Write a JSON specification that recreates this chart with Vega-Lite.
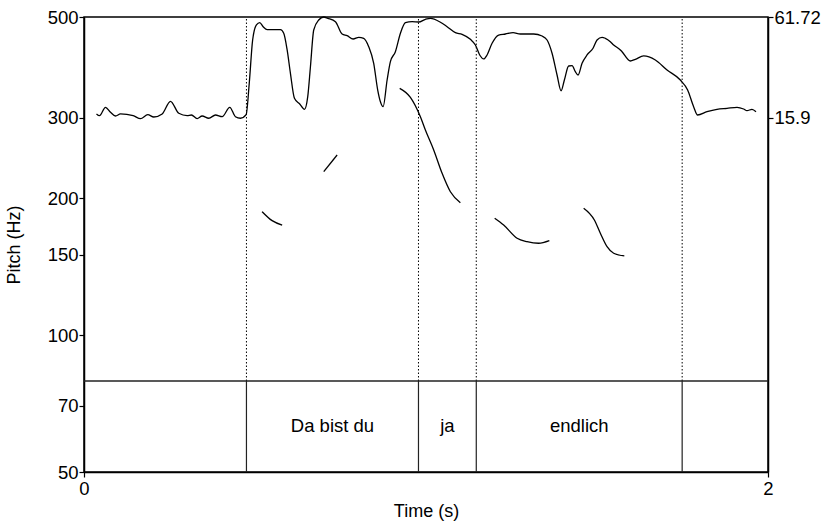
{
  "$schema": "https://vega.github.io/schema/vega-lite/v6.json",
  "width": 684,
  "height": 455,
  "autosize": "none",
  "padding": {"left": 84, "top": 17, "right": 60, "bottom": 56},
  "background": "white",
  "config": {
    "font": "Liberation Sans",
    "view": {"stroke": "black", "strokeWidth": 1.5},
    "axis": {
      "labelFont": "Liberation Sans", "labelFontSize": 18.5, "labelColor": "black",
      "titleFont": "Liberation Sans", "titleFontSize": 18, "titleFontWeight": "normal", "titleColor": "black",
      "domainColor": "black", "domainWidth": 1.5, "tickColor": "black", "tickWidth": 1.2, "tickSize": 5,
      "grid": false, "labelFlush": false, "labelOverlap": false, "labelBound": false
    }
  },
  "datasets": {
    "pitch": [
      {"t":0.0365,"f":306.1,"seg":1},{"t":0.0453,"f":303.5,"seg":1},{"t":0.0628,"f":316.6,"seg":1},{"t":0.0775,"f":308.7,"seg":1},
      {"t":0.0921,"f":303.0,"seg":1},{"t":0.1067,"f":306.1,"seg":1},{"t":0.1438,"f":303.5,"seg":1},{"t":0.1652,"f":298.9,"seg":1},
      {"t":0.1865,"f":305.0,"seg":1},{"t":0.2040,"f":301.4,"seg":1},{"t":0.2286,"f":306.1,"seg":1},{"t":0.2528,"f":326.4,"seg":1},
      {"t":0.2771,"f":307.2,"seg":1},{"t":0.3017,"f":303.5,"seg":1},{"t":0.3142,"f":304.5,"seg":1},{"t":0.3309,"f":298.9,"seg":1},
      {"t":0.3455,"f":303.0,"seg":1},{"t":0.3648,"f":299.5,"seg":1},{"t":0.3844,"f":304.5,"seg":1},{"t":0.4040,"f":301.9,"seg":1},
      {"t":0.4262,"f":316.6,"seg":1},{"t":0.4428,"f":301.9,"seg":1},{"t":0.4575,"f":299.5,"seg":1},{"t":0.4741,"f":305.0,"seg":1},
      {"t":0.4832,"f":357.5,"seg":1},{"t":0.4931,"f":445.1,"seg":1},{"t":0.5042,"f":480.2,"seg":1},{"t":0.5139,"f":485.8,"seg":1},
      {"t":0.5238,"f":476.1,"seg":1},{"t":0.5355,"f":468.9,"seg":1},{"t":0.5548,"f":468.9,"seg":1},{"t":0.5744,"f":468.9,"seg":1},
      {"t":0.5840,"f":460.5,"seg":1},{"t":0.5940,"f":423.2,"seg":1},{"t":0.6036,"f":376.0,"seg":1},{"t":0.6153,"f":331.4,"seg":1},
      {"t":0.6308,"f":322.0,"seg":1},{"t":0.6446,"f":313.4,"seg":1},{"t":0.6542,"f":334.1,"seg":1},{"t":0.6621,"f":388.8,"seg":1},
      {"t":0.6717,"f":468.2,"seg":1},{"t":0.6863,"f":492.5,"seg":1},{"t":0.7010,"f":500.0,"seg":1},{"t":0.7127,"f":496.7,"seg":1},
      {"t":0.7352,"f":488.3,"seg":1},{"t":0.7547,"f":458.8,"seg":1},{"t":0.7694,"f":454.9,"seg":1},{"t":0.7869,"f":447.3,"seg":1},
      {"t":0.8033,"f":451.2,"seg":1},{"t":0.8179,"f":448.9,"seg":1},{"t":0.8325,"f":430.3,"seg":1},{"t":0.8471,"f":395.6,"seg":1},
      {"t":0.8588,"f":345.5,"seg":1},{"t":0.8667,"f":325.7,"seg":1},{"t":0.8746,"f":317.6,"seg":1},{"t":0.8863,"f":363.5,"seg":1},
      {"t":0.8959,"f":398.8,"seg":1},{"t":0.9105,"f":419.5,"seg":1},{"t":0.9252,"f":460.5,"seg":1},{"t":0.9398,"f":485.8,"seg":1},
      {"t":0.9594,"f":488.3,"seg":1},{"t":0.9787,"f":487.5,"seg":1},{"t":0.9982,"f":494.2,"seg":1},{"t":1.0129,"f":496.7,"seg":1},
      {"t":1.0421,"f":487.0,"seg":1},{"t":1.0617,"f":476.1,"seg":1},{"t":1.0859,"f":461.9,"seg":1},{"t":1.1055,"f":458.1,"seg":1},
      {"t":1.1298,"f":446.6,"seg":1},{"t":1.1444,"f":434.0,"seg":1},{"t":1.1570,"f":412.6,"seg":1},{"t":1.1687,"f":404.4,"seg":1},
      {"t":1.1786,"f":412.6,"seg":1},{"t":1.1932,"f":437.7,"seg":1},{"t":1.2125,"f":456.4,"seg":1},{"t":1.2321,"f":458.8,"seg":1},
      {"t":1.2546,"f":461.9,"seg":1},{"t":1.2759,"f":458.8,"seg":1},{"t":1.3148,"f":458.8,"seg":1},{"t":1.3394,"f":454.1,"seg":1},
      {"t":1.3540,"f":445.1,"seg":1},{"t":1.3686,"f":416.2,"seg":1},{"t":1.3832,"f":372.8,"seg":1},{"t":1.3949,"f":344.3,"seg":1},
      {"t":1.4046,"f":363.5,"seg":1},{"t":1.4171,"f":390.2,"seg":1},{"t":1.4271,"f":390.8,"seg":1},{"t":1.4367,"f":379.1,"seg":1},
      {"t":1.4446,"f":372.8,"seg":1},{"t":1.4563,"f":395.6,"seg":1},{"t":1.4709,"f":412.6,"seg":1},{"t":1.4884,"f":426.8,"seg":1},
      {"t":1.5001,"f":445.1,"seg":1},{"t":1.5147,"f":451.2,"seg":1},{"t":1.5244,"f":448.9,"seg":1},{"t":1.5390,"f":441.3,"seg":1},
      {"t":1.5487,"f":434.0,"seg":1},{"t":1.5683,"f":423.2,"seg":1},{"t":1.5732,"f":419.5,"seg":1},{"t":1.5975,"f":400.2,"seg":1},
      {"t":1.6121,"f":403.6,"seg":1},{"t":1.6364,"f":410.5,"seg":1},{"t":1.6706,"f":402.2,"seg":1},{"t":1.7048,"f":382.4,"seg":1},
      {"t":1.7437,"f":363.5,"seg":1},{"t":1.7650,"f":345.5,"seg":1},{"t":1.7825,"f":317.6,"seg":1},{"t":1.7942,"f":304.5,"seg":1},
      {"t":1.8217,"f":309.6,"seg":1},{"t":1.8509,"f":313.4,"seg":1},{"t":1.8801,"f":315.0,"seg":1},{"t":1.9094,"f":316.6,"seg":1},
      {"t":1.9287,"f":313.9,"seg":1},{"t":1.9386,"f":311.2,"seg":1},{"t":1.9532,"f":313.4,"seg":1},{"t":1.9649,"f":309.6,"seg":1},
      {"t":0.5209,"f":186.7,"seg":2},{"t":0.5501,"f":178.4,"seg":2},{"t":0.5794,"f":174.5,"seg":2},
      {"t":0.7010,"f":228.6,"seg":3},{"t":0.7401,"f":248.7,"seg":3},
      {"t":0.9231,"f":348.5,"seg":4},{"t":0.9544,"f":333.0,"seg":4},{"t":0.9836,"f":301.9,"seg":4},{"t":0.9982,"f":282.2,"seg":4},
      {"t":1.0225,"f":255.1,"seg":4},{"t":1.0471,"f":226.7,"seg":4},{"t":1.0713,"f":206.5,"seg":4},{"t":1.1005,"f":195.4,"seg":4},
      {"t":1.2008,"f":180.6,"seg":5},{"t":1.2271,"f":174.5,"seg":5},{"t":1.2663,"f":163.2,"seg":5},{"t":1.2955,"f":160.4,"seg":5},
      {"t":1.3294,"f":159.1,"seg":5},{"t":1.3607,"f":161.2,"seg":5},
      {"t":1.4610,"f":190.0,"seg":6},{"t":1.4923,"f":179.0,"seg":6},{"t":1.5098,"f":167.4,"seg":6},{"t":1.5294,"f":156.4,"seg":6},
      {"t":1.5487,"f":151.3,"seg":6},{"t":1.5799,"f":149.2,"seg":6}
    ],
    "bounds": [{"t":0.475},{"t":0.978},{"t":1.147},{"t":1.749}],
    "labels": [
      {"t":0.7265,"f":63.2,"label":"Da bist du"},
      {"t":1.0625,"f":63.2,"label":"ja"},
      {"t":1.448,"f":63.2,"label":"endlich"}
    ]
  },
  "layer": [
    {
      "data": {"name": "pitch"},
      "mark": {"type": "line", "color": "black", "strokeWidth": 1.3, "interpolate": "monotone"},
      "encoding": {
        "x": {"field": "t", "type": "quantitative", "scale": {"domain": [0, 2], "nice": false, "zero": false},
              "axis": {"values": [0, 2], "format": "d", "title": "Time (s)", "labelPadding": 2, "titlePadding": 5}},
        "y": {"field": "f", "type": "quantitative", "scale": {"type": "log", "domain": [50, 500], "nice": false},
              "axis": {"orient": "left", "values": [50, 70, 100, 150, 200, 300, 500], "format": "d", "title": "Pitch (Hz)", "labelPadding": 1, "titlePadding": 24}},
        "detail": {"field": "seg", "type": "nominal"},
        "order": {"field": "t", "type": "quantitative"}
      }
    },
    {
      "data": {"name": "bounds"},
      "mark": {"type": "rule", "color": "black", "strokeWidth": 1, "strokeDash": [1.5, 2]},
      "encoding": {
        "x": {"field": "t", "type": "quantitative"},
        "y": {"datum": 79.24, "type": "quantitative", "axis": null},
        "y2": {"datum": 500}
      }
    },
    {
      "data": {"name": "bounds"},
      "mark": {"type": "rule", "color": "#222222", "strokeWidth": 1.2},
      "encoding": {
        "x": {"field": "t", "type": "quantitative"},
        "y": {"datum": 50, "type": "quantitative", "axis": null},
        "y2": {"datum": 79.24}
      }
    },
    {
      "data": {"name": "labels"},
      "mark": {"type": "rule", "color": "#222222", "strokeWidth": 1.3},
      "transform": [{"filter": "datum.label == 'ja'"}],
      "encoding": {
        "x": {"datum": 0, "type": "quantitative"},
        "x2": {"datum": 2},
        "y": {"datum": 79.24, "type": "quantitative", "axis": null}
      }
    },
    {
      "data": {"name": "labels"},
      "mark": {"type": "text", "font": "Liberation Sans", "fontSize": 18.5, "color": "black", "baseline": "middle", "align": "center"},
      "encoding": {
        "x": {"field": "t", "type": "quantitative"},
        "y": {"field": "f", "type": "quantitative",
              "axis": {"orient": "right", "values": [500, 300], "title": null, "labelPadding": 1,
                       "labelExpr": "datum.value == 500 ? '61.72' : '15.9'"}},
        "text": {"field": "label"}
      }
    }
  ],
  "resolve": {"axis": {"y": "independent"}}
}
